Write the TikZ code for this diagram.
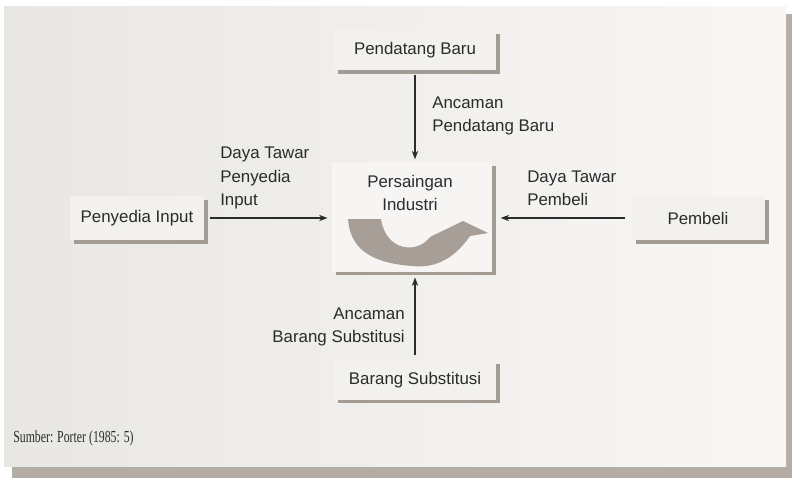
\documentclass[tikz,border=0pt]{standalone}
\usepackage{fontspec}
\setmainfont{Liberation Sans}
\newfontfamily\sourcefont[FakeStretch=0.7]{Liberation Serif}
\usetikzlibrary{arrows.meta,shadows}

\definecolor{paperLeft}{HTML}{E9E7E3}
\definecolor{paperRight}{HTML}{F8F7F5}
\definecolor{paperShadow}{HTML}{B3ADA6}
\definecolor{boxFill}{HTML}{F2F1EE}
\definecolor{boxShadow}{HTML}{A39C95}
\definecolor{turnFill}{HTML}{A69E97}
\definecolor{ink}{HTML}{2B2B2B}

\begin{document}
\begin{tikzpicture}[x=0.025cm,y=-0.025cm]
      \useasboundingbox (0,0) rectangle (792,480);

      \tikzstyle{box} = [
        rectangle,
        fill=boxFill,
        draw=none,
        inner sep=0pt,
        text=ink,
        align=center,
        font=\fontsize{12}{16.4}\selectfont,
        copy shadow={shadow xshift=3pt, shadow yshift=-2.5pt, fill=boxShadow, draw=none}
      ]
      \tikzstyle{boxlabel} = [
        draw=none,
        inner sep=0pt,
        text=ink,
        font=\fontsize{12}{16.4}\selectfont
      ]

      \tikzstyle{arrow} = [line width=0.8pt,-{Stealth[length=6pt,width=4.5pt]}, draw=ink]

      % paper
      \fill[white] (0,0) rectangle (792,480);
      \fill[paperShadow] (12,14) rectangle (792,478);
      \shade[left color=paperLeft, right color=paperRight] (4,6) rectangle (786,466);

      % forces
      \node[box,minimum width=4.05cm,minimum height=1cm] (boxEntrant) at (415,50) {Pendatang Baru};
      \node[box,minimum width=3.35cm,minimum height=1.1cm] (boxSupplier) at (137,218) {Penyedia Input};
      \node[box,minimum width=3.33cm,minimum height=1.1cm] (boxBuyer) at (698,218) {Pembeli};
      \node[box,minimum width=4.05cm,minimum height=0.98cm] (boxSubst) at (415,380) {Barang Substitusi};

      % rivalry
      \node[box,fill=boxFill!70!white,minimum width=4cm,minimum height=2.73cm] (boxRivalry) at (412,217) {};
      \node[boxlabel,align=center] (boxRivalryLabel) at (410,193) {Persaingan\\Industri};
      \fill[turnFill] (348,219) -- (381,219)
        .. controls (386,252) and (418,254) .. (430,237)
        -- (463,221) -- (488,233) -- (470,236)
        .. controls (452,262) and (432,268) .. (412,266)
        .. controls (370,263) and (350,248) .. cycle;

      % arrows
      \draw[arrow,shorten <=3pt,shorten >=2pt] (boxEntrant.south) -- (boxEntrant.south |- boxRivalry.north);
      \draw[arrow,shorten <=4pt,shorten >=3pt] (boxSupplier.east) -- (boxSupplier.east -| boxRivalry.west);
      \draw[arrow,shorten <=4.5pt,shorten >=6pt] (boxBuyer.west) -- (boxBuyer.west -| boxRivalry.east);
      \draw[arrow,shorten <=3.5pt,shorten >=4pt] (boxSubst.north) -- (boxSubst.north |- boxRivalry.south);

      % labels
      \node[boxlabel,align=left,anchor=west] (lblEntrant) at (432,116) {Ancaman\\Pendatang Baru};
      \node[boxlabel,align=left,anchor=west] (lblSupplier) at (220,178) {Daya Tawar\\Penyedia\\Input};
      \node[boxlabel,align=left,anchor=west] (lblBuyer) at (527,188) {Daya Tawar\\Pembeli};
      \node[boxlabel,align=right,anchor=east] (lblSubst) at (405,327) {Ancaman\\Barang Substitusi};

      % source
      \node[boxlabel,anchor=west,font=\sourcefont\fontsize{12}{14}\selectfont] (lblSource) at (13,438) {Sumber: Porter (1985: 5)};
\end{tikzpicture}
\end{document}
